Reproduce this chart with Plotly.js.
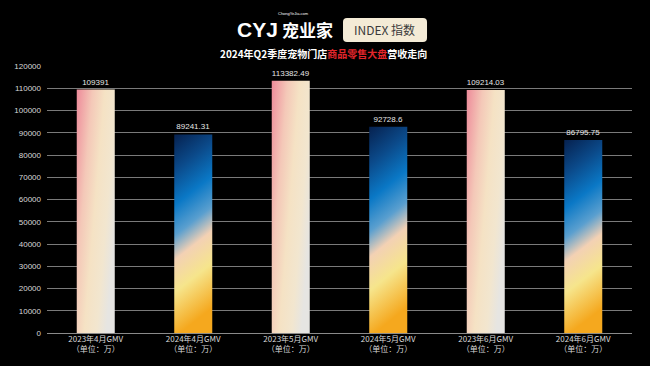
<!DOCTYPE html>
<html>
<head>
<meta charset="utf-8">
<script src="https://cdn.plot.ly/plotly-3.0.1.min.js"></script>
<style>
html,body{margin:0;padding:0;background:#000;}
#chart{width:650px;height:366px;}
</style>
</head>
<body>
<div id="chart"></div>
<script>
// ---- data ----
const categories = [
  "2023年4月GMV<br>（单位：万）",
  "2024年4月GMV<br>（单位：万）",
  "2023年5月GMV<br>（单位：万）",
  "2024年5月GMV<br>（单位：万）",
  "2023年6月GMV<br>（单位：万）",
  "2024年6月GMV<br>（单位：万）"
];
const gmvValues = [109391, 89241.31, 113382.49, 92728.6, 109214.03, 86795.75];
const valueLabels = ["109391", "89241.31", "113382.49", "92728.6", "109214.03", "86795.75"];
const barYears = ["2023", "2024", "2023", "2024", "2023", "2024"];
const yTicks = [0,10000,20000,30000,40000,50000,60000,70000,80000,90000,100000,110000,120000];

// pixel -> paper helpers (layout positions only)
const M = {l: 47, r: 18, t: 66, b: 33};
const PW = 650 - M.l - M.r, PH = 366 - M.t - M.b;
const px = v => (v - M.l) / PW;
const py = v => (366 - M.b - v) / PH;

const trace = {
  type: "bar",
  x: categories,
  y: gmvValues,
  text: valueLabels,
  textposition: "outside",
  textfont: {family: "Liberation Sans, Arial, sans-serif", size: 8, color: "#e6e6e6"},
  cliponaxis: false,
  marker: {color: barYears.map(y => y === "2023" ? "#f5dcc4" : "#1a6fb8"), line: {width: 0}},
  hoverinfo: "none"
};

function ann(x, y, text, font, extra){
  return Object.assign({xref: "paper", yref: "paper", x: px(x), y: py(y),
    xanchor: "center", yanchor: "middle", text: text, showarrow: false, font: font}, extra || {});
}

const layout = {
  width: 650, height: 366,
  paper_bgcolor: "#000", plot_bgcolor: "#000",
  margin: M,
  bargap: 0.61,
  showlegend: false,
  font: {family: "Liberation Sans, Noto Sans CJK SC, sans-serif", color: "#ddd", size: 8},
  xaxis: {
    type: "category",
    showgrid: false, zeroline: false, showline: false,
    ticks: "", tickfont: {size: 8, color: "#d8d8d8", family: "Noto Sans CJK SC, sans-serif"}
  },
  yaxis: {
    range: [0, 120000],
    tickvals: yTicks,
    ticktext: yTicks.map(String),
    showgrid: true, gridcolor: "#7a7a7a", gridwidth: 1,
    zeroline: true, zerolinecolor: "#8a8a8a", zerolinewidth: 1,
    showline: false, ticks: "",
    ticklabelstandoff: 5,
    tickfont: {size: 8, color: "#d8d8d8", family: "Liberation Sans, Arial, sans-serif"}
  },
  shapes: [],
  annotations: [
    ann(323, 53, "<b>2024年Q2季度宠物门店<span style='color:#e3262b'>商品零售大盘</span>营收走向</b>",
        {family: "Noto Sans CJK SC, sans-serif", size: 10, color: "#ffffff"}),
    ann(257, 30, "<b>CYJ</b>", {family: "Liberation Sans, Arial, sans-serif", size: 21, color: "#ffffff"}),
    ann(307, 30, "<b>宠业家</b>", {family: "Noto Sans CJK SC, sans-serif", size: 17, color: "#ffffff"}),
    ann(293, 14, "ChongYeJia.com", {family: "Liberation Sans, Arial, sans-serif", size: 4, color: "#ffffff"}),
    ann(385, 30, "INDEX 指数", {family: "Noto Sans CJK SC, sans-serif", size: 12, color: "#3a3a3a"})
  ]
};

// rounded cream box for "INDEX 指数"
(function(){
  const x0 = 343, x1 = 427, y0 = 18, y1 = 42, r = 4;
  const X = v => px(v).toFixed(4), Y = v => py(v).toFixed(4);
  layout.shapes.push({
    type: "path", xref: "paper", yref: "paper", layer: "below",
    fillcolor: "#f4ebd6", line: {width: 0},
    path: `M ${X(x0+r)},${Y(y0)} L ${X(x1-r)},${Y(y0)} Q ${X(x1)},${Y(y0)} ${X(x1)},${Y(y0+r)} ` +
          `L ${X(x1)},${Y(y1-r)} Q ${X(x1)},${Y(y1)} ${X(x1-r)},${Y(y1)} ` +
          `L ${X(x0+r)},${Y(y1)} Q ${X(x0)},${Y(y1)} ${X(x0)},${Y(y1-r)} ` +
          `L ${X(x0)},${Y(y0+r)} Q ${X(x0)},${Y(y0)} ${X(x0+r)},${Y(y0)} Z`
  });
})();

Plotly.newPlot("chart", [trace], layout, {displayModeBar: false, staticPlot: true}).then(function(gd){
  const svg = gd.querySelector(".main-svg");
  const defs = svg.querySelector("defs");
  const NS = "http://www.w3.org/2000/svg";
  function grad(id, attrs, stops){
    const g = document.createElementNS(NS, "linearGradient");
    g.setAttribute("id", id);
    for (const k in attrs) g.setAttribute(k, attrs[k]);
    stops.forEach(s => {
      const st = document.createElementNS(NS, "stop");
      st.setAttribute("offset", s[0]);
      st.setAttribute("stop-color", s[1]);
      g.appendChild(st);
    });
    defs.appendChild(g);
  }
  grad("gPink", {x1: "0", y1: "0.05", x2: "1", y2: "0.6"}, [
    ["0", "#ee8f9c"], ["0.3", "#f4c8b8"], ["0.55", "#f5e2c4"], ["0.8", "#f2e6cf"], ["1", "#e6e5e2"]
  ]);
  grad("gBlue", {x1: "0", y1: "0", x2: "0.15", y2: "1"}, [
    ["0", "#06214f"], ["0.18", "#0b4a8a"], ["0.35", "#0a78c6"], ["0.5", "#5a9fcf"],
    ["0.62", "#f3d1b4"], ["0.78", "#f6e58c"], ["1", "#f5a81e"]
  ]);
  gd.querySelectorAll(".bars .point path").forEach((p, i) => {
    p.style.fill = barYears[i] === "2023" ? "url(#gPink)" : "url(#gBlue)";
  });
});
</script>
</body>
</html>
